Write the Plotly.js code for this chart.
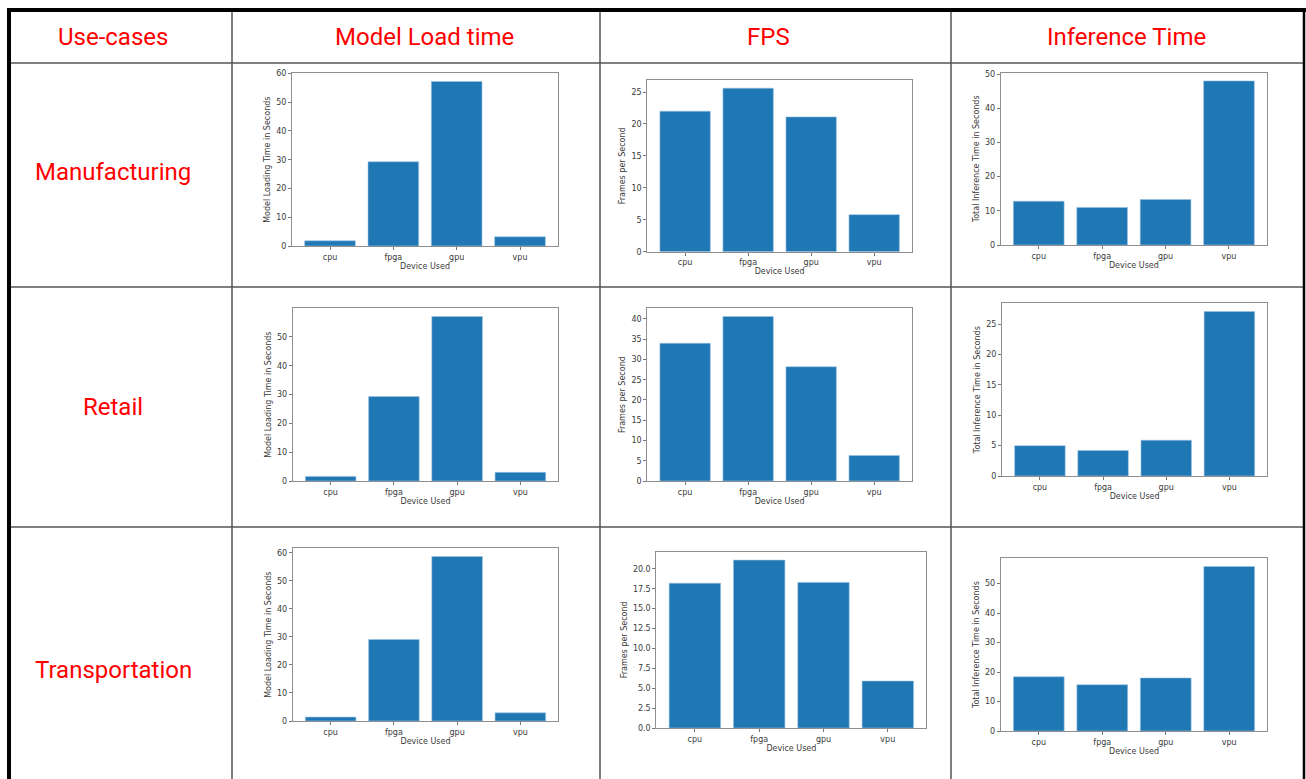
<!DOCTYPE html>
<html>
<head>
<meta charset="utf-8">
<script src="https://cdn.plot.ly/plotly-3.0.1.min.js"></script>
<style>
  html, body { margin: 0; padding: 0; background: #ffffff; }
  #chart { width: 1306px; height: 779px; }
</style>
</head>
<body>
<div id="chart"></div>
<script>
// ---- Data ----
var devices = ["cpu", "fpga", "gpu", "vpu"];
var useCases = ["Manufacturing", "Retail", "Transportation"];
var metrics = ["Model Load time", "FPS", "Inference Time"];
var headerLabel = "Use-cases";

var yTitles = ["Model Loading Time in Seconds", "Frames per Second", "Total Inference Time in Seconds"];
var xTitle = "Device Used";

var manufacturingLoad = [1.8, 29.3, 57.2, 3.2];
var manufacturingFps = [22.0, 25.6, 21.1, 5.8];
var manufacturingInference = [12.8, 11.0, 13.3, 48.0];

var retailLoad = [1.6, 29.3, 57.1, 3.0];
var retailFps = [34.0, 40.6, 28.2, 6.3];
var retailInference = [5.0, 4.2, 5.9, 27.1];

var transportationLoad = [1.4, 29.1, 58.7, 2.9];
var transportationFps = [18.2, 21.1, 18.3, 5.9];
var transportationInference = [18.4, 15.7, 18.0, 55.8];

var seriesGrid = [
  [manufacturingLoad, manufacturingFps, manufacturingInference],
  [retailLoad, retailFps, retailInference],
  [transportationLoad, transportationFps, transportationInference]
];

// ---- Layout geometry (pixels in the 1306x779 page) ----
var W = 1306, H = 779;
var frames = [
  [[292, 558, 73.3, 246], [647.3, 912, 80, 251.7], [1000.7, 1267, 72.7, 245]],
  [[292.7, 558.3, 308.3, 481], [647.3, 912, 308.3, 481], [1002, 1267.3, 303.3, 476]],
  [[292.7, 558.3, 548.3, 721], [656.3, 926.4, 551.7, 728], [1000.7, 1267.3, 558.3, 731]]
];
var dticks = [[10, 5, 10], [10, 5, 5], [10, 2.5, 10]];
var tickFormats = [["", "", ""], ["", "", ""], ["", ".1f", ""]];

function px(x) { return x / W; }
function py(y) { return 1 - y / H; }

var smallFont = { family: "DejaVu Sans, sans-serif", size: 8, color: "#3a3a3a" };
var bigFont = { family: "Roboto, sans-serif", size: 24, color: "#ff0000" };

var traces = [];
var layout = {
  width: W, height: H,
  margin: { l: 0, r: 0, t: 0, b: 0 },
  paper_bgcolor: "#ffffff",
  plot_bgcolor: "#ffffff",
  showlegend: false,
  bargap: 0.2,
  annotations: [],
  shapes: []
};

var idx = 0;
for (var r = 0; r < 3; r++) {
  for (var c = 0; c < 3; c++) {
    idx++;
    var vals = seriesGrid[r][c];
    var f = frames[r][c];
    var xa = "xaxis" + (idx === 1 ? "" : idx);
    var ya = "yaxis" + (idx === 1 ? "" : idx);
    var xr = "x" + (idx === 1 ? "" : idx);
    var yr = "y" + (idx === 1 ? "" : idx);
    traces.push({
      type: "bar",
      x: devices,
      y: vals,
      xaxis: xr,
      yaxis: yr,
      width: 0.8,
      marker: { color: "#1f77b4", line: { color: "#9cc3e4", width: 0.6 } },
      hoverinfo: "x+y"
    });
    var ymax = Math.max.apply(null, vals) * 1.05;
    layout[xa] = {
      domain: [px(f[0]), px(f[1])],
      anchor: yr,
      type: "category",
      range: [-0.6, 3.6],
      showgrid: false, zeroline: false,
      showline: true, mirror: true, linecolor: "#8f8f8f", linewidth: 1,
      ticks: "outside", ticklen: 3, tickwidth: 1, tickcolor: "#777777",
      tickfont: smallFont,
      automargin: false,
      fixedrange: true,
      title: { text: xTitle, font: smallFont, standoff: 2 }
    };
    layout[ya] = {
      domain: [py(f[3]), py(f[2])],
      anchor: xr,
      range: [0, ymax],
      dtick: dticks[r][c],
      tick0: 0,
      tickformat: tickFormats[r][c],
      showgrid: false, zeroline: false,
      showline: true, mirror: true, linecolor: "#8f8f8f", linewidth: 1,
      ticks: "outside", ticklen: 3, tickwidth: 1, tickcolor: "#777777",
      tickfont: smallFont,
      automargin: false,
      fixedrange: true,
      title: { text: yTitles[c], font: smallFont, standoff: 4 }
    };
  }
}

// ---- Table: header and row labels ----
var colCenters = [113, 424, 768, 1126];
var headerY = 37;
var rowCenters = [172, 407, 670];
layout.annotations.push({
  text: headerLabel, xref: "paper", yref: "paper",
  x: px(colCenters[0]), y: py(headerY), showarrow: false,
  xanchor: "center", yanchor: "middle", font: bigFont
});
for (var m = 0; m < metrics.length; m++) {
  layout.annotations.push({
    text: metrics[m], xref: "paper", yref: "paper",
    x: px(colCenters[m + 1]), y: py(headerY), showarrow: false,
    xanchor: "center", yanchor: "middle", font: bigFont
  });
}
for (var u = 0; u < useCases.length; u++) {
  layout.annotations.push({
    text: useCases[u], xref: "paper", yref: "paper",
    x: px(colCenters[0]), y: py(rowCenters[u]), showarrow: false,
    xanchor: "center", yanchor: "middle", font: bigFont
  });
}

// ---- Table grid lines ----
function line(x0, y0, x1, y1, color, width) {
  layout.shapes.push({
    type: "line", xref: "paper", yref: "paper",
    x0: px(x0), y0: py(y0), x1: px(x1), y1: py(y1),
    line: { color: color, width: width }
  });
}
var gridColor = "#555555";
line(9, 63, 1304, 63, gridColor, 1.5);
line(9, 287, 1304, 287, gridColor, 1.5);
line(9, 527, 1304, 527, gridColor, 1.5);
line(232, 10, 232, 779, gridColor, 1.5);
line(600, 10, 600, 779, gridColor, 1.5);
line(951, 10, 951, 779, gridColor, 1.5);
line(7, 10, 1306, 10, "#000000", 4);
line(9, 8, 9, 779, "#000000", 4);
line(1304, 8, 1304, 779, "#000000", 2.5);

Plotly.newPlot("chart", traces, layout, { displayModeBar: false, staticPlot: true });
</script>
</body>
</html>
